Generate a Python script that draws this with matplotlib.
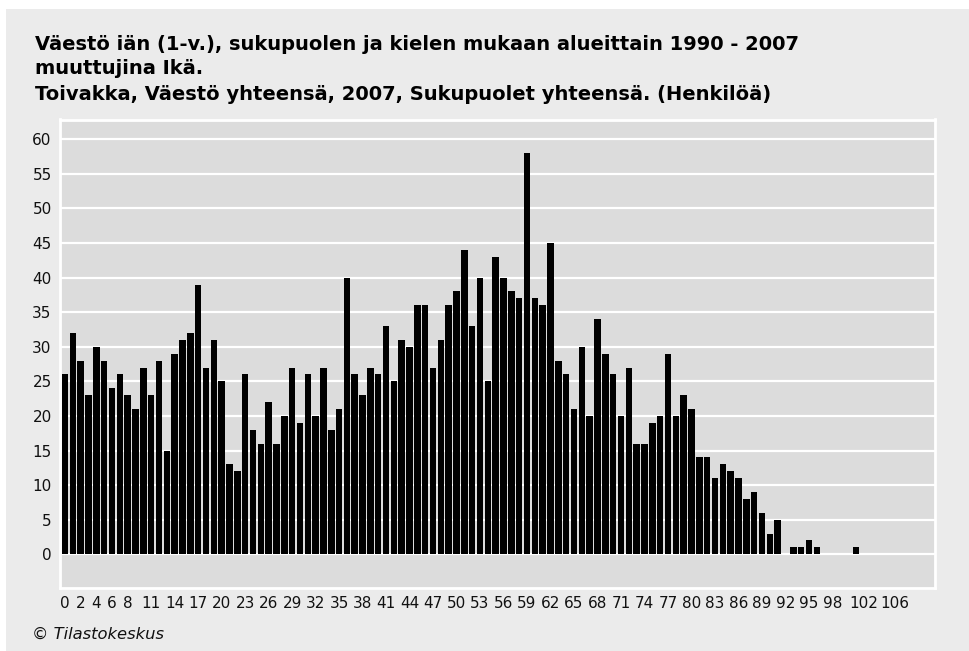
import matplotlib
matplotlib.use("Agg")
import matplotlib.pyplot as plt
from matplotlib.patches import Rectangle

ages = list(range(0, 102))
values = [26, 32, 28, 23, 30, 28, 24, 26, 23, 21,
          27, 23, 28, 15, 29, 31, 32, 39, 27, 31,
          25, 13, 12, 26, 18, 16, 22, 16, 20, 27,
          19, 26, 20, 27, 18, 21, 40, 26, 23, 27,
          26, 33, 25, 31, 30, 36, 36, 27, 31, 36,
          38, 44, 33, 40, 25, 43, 40, 38, 37, 58,
          37, 36, 45, 28, 26, 21, 30, 20, 34, 29,
          26, 20, 27, 16, 16, 19, 20, 29, 20, 23,
          21, 14, 14, 11, 13, 12, 11, 8, 9, 6,
          3, 5, 0, 1, 1, 2, 1, 0, 0, 0,
          0, 1]
xtick_labels = [0, 2, 4, 6, 8] + list(range(11, 99, 3)) + [102, 106]
yticks = list(range(0, 61, 5))

title_lines = ["Väestö iän (1-v.), sukupuolen ja kielen mukaan alueittain 1990 - 2007",
               "muuttujina Ikä.",
               "Toivakka, Väestö yhteensä, 2007, Sukupuolet yhteensä. (Henkilöä)"]
credit = "© Tilastokeskus"

W, H = 970, 651
fig = plt.figure(figsize=(W / 100, H / 100), dpi=100)
fig.patch.set_facecolor("white")
bg = Rectangle((6 / W, 0), 1 - 6 / W, 1 - 9 / H, transform=fig.transFigure,
               facecolor="#ebebeb", edgecolor="none", zorder=-10)
fig.patches.append(bg)

ax = fig.add_axes([60 / W, 1 - 588 / H, 875 / W, 468.5 / H])
ax.set_zorder(2)
ax.set_facecolor("#dcdcdc")
for s in ax.spines.values():
    s.set_color("white")
    s.set_linewidth(2)

ax.bar(ages, values, width=0.83, color="black", edgecolor="none", linewidth=0, zorder=3)
ax.set_xlim(-0.64, 111.1)
ax.set_ylim(-4.87, 62.86)
ax.set_yticks(yticks)
ax.set_yticklabels([str(v) for v in yticks])
ax.set_xticks(xtick_labels)
ax.set_xticklabels([str(v) for v in xtick_labels])
ax.tick_params(axis="both", length=0, labelsize=11, colors="#111111")
ax.tick_params(axis="y", pad=6)
ax.tick_params(axis="x", pad=6)
for v in yticks:
    ax.axhline(v, color="white", linewidth=1.6, zorder=1)

for i, line in enumerate(title_lines):
    fig.text(35 / W, 1 - (44 + 25 * i) / H, line, fontsize=14, fontweight="bold",
             va="center", ha="left", color="black")
fig.text(32 / W, 1 - 634 / H, credit, fontsize=11.8, style="italic", va="center", ha="left",
         color="#111111")

fig.savefig("out.png", dpi=100)
